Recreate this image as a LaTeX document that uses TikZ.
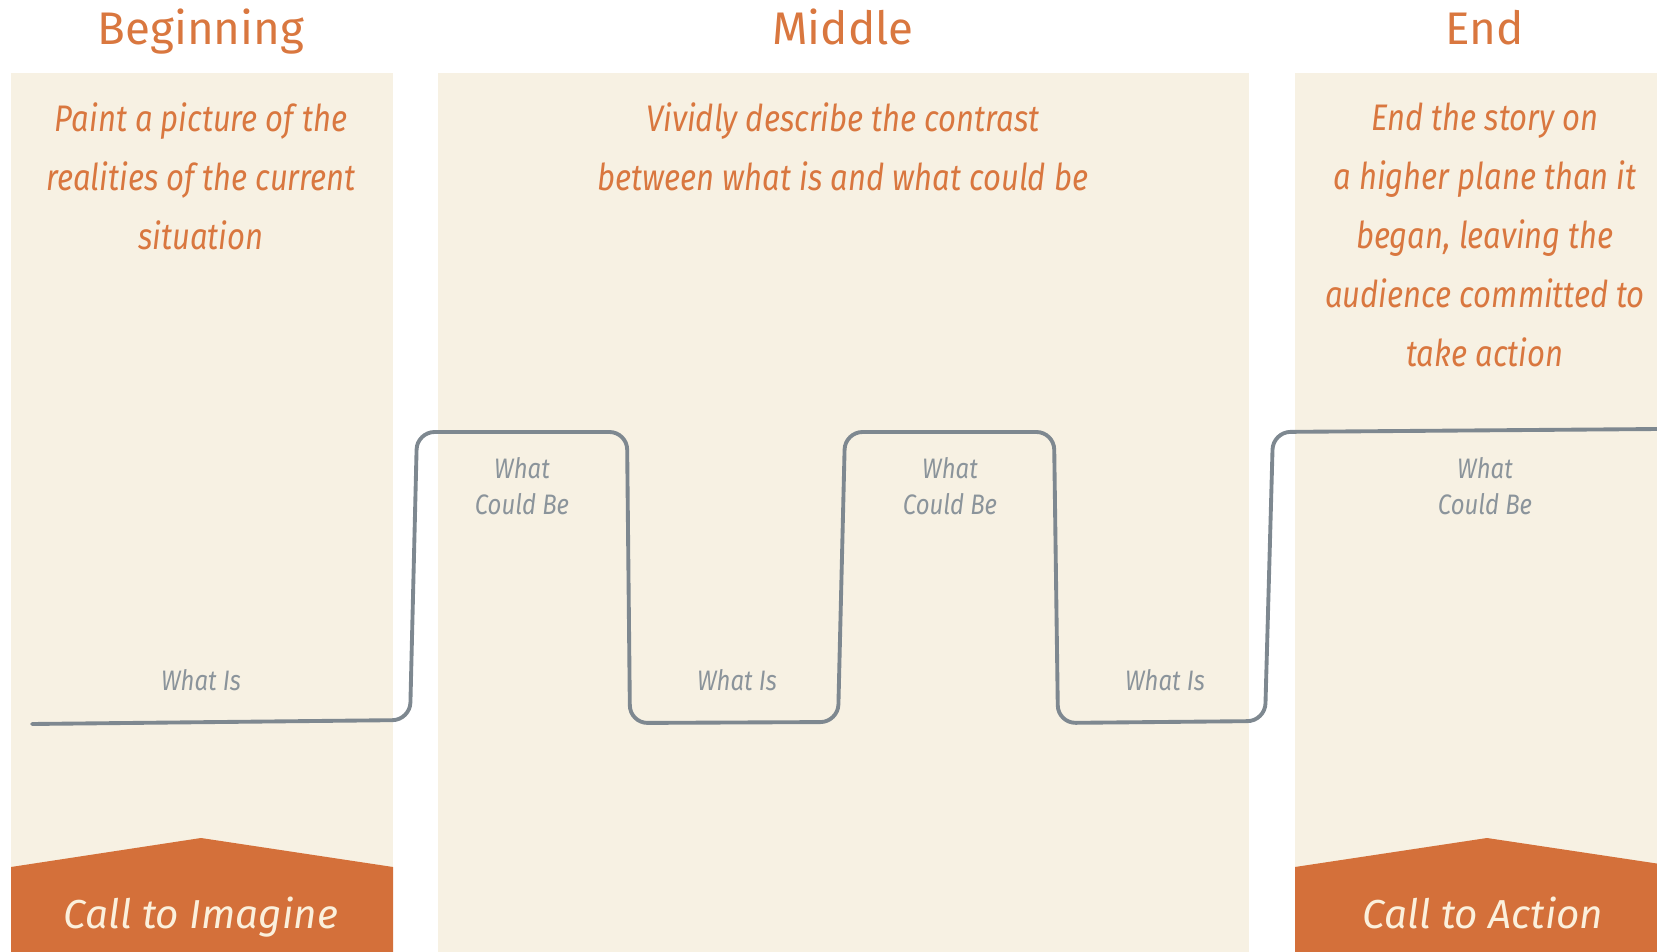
\documentclass[tikz,border=0pt]{standalone}
\usepackage{fontspec}
\setmainfont{Fira Sans}
\newfontfamily\condfont{Fira Sans}[FakeStretch=0.84]
\newfontfamily\labelfont{Fira Sans}[FakeStretch=0.85]
\usetikzlibrary{positioning}
\definecolor{panelbg}{HTML}{F7F1E3}
\definecolor{rust}{HTML}{D4703A}
\definecolor{titleorange}{HTML}{D9773F}
\definecolor{wavegray}{HTML}{7E8890}
\definecolor{labelgray}{HTML}{8B949B}
\definecolor{cream}{HTML}{FBF0DC}

\begin{document}
\begin{tikzpicture}[x=0.01cm, y=-0.01cm,
  heading/.style={text=titleorange, anchor=base, inner sep=0pt, font=\fontsize{13}{15}\selectfont},
  blurb/.style={text=titleorange, anchor=north, inner sep=0pt, align=center, font=\condfont\itshape\fontsize{10.5}{16.8}\selectfont},
  level/.style={text=labelgray, inner sep=0pt, align=center, font=\labelfont\itshape\fontsize{8}{10.2}\selectfont},
  calltext/.style={text=cream, anchor=base, inner sep=0pt, font=\itshape\fontsize{11.5}{14}\selectfont},
  wave/.style={draw=wavegray, line width=1.1pt, rounded corners=5, line cap=round}]
  \useasboundingbox (0,0) rectangle (1657,952);
  \clip (0,0) rectangle (1657,952);
  % three columns
  \fill[panelbg] (11,73) rectangle (393,952);
  \fill[panelbg] (438,73) rectangle (1249,952);
  \fill[panelbg] (1295,73) rectangle (1680,952);
  % headings
  \node[heading] (beg) at (201,45) {Beginning};
  \node[heading] (mid) at (843,45) {Middle};
  \node[heading] (end) at (1485,45) {End};
  % descriptions
  \node[blurb] (begtxt) at (201,102) {Paint a picture of the\\realities of the current\\situation};
  \node[blurb] (midtxt) at (843,102) {Vividly describe the contrast\\between what is and what could be};
  \node[blurb] (endtxt) at (1485,102) {End the story on\\a higher plane than it\\began, leaving the\\audience committed to\\take action};
  % the what is / what could be line
  \draw[wave] (32,724) -- (410,720) -- (417,432) -- (627,432) -- (630,723) -- (838,722)
    -- (845,432) -- (1054,432) -- (1058,723) -- (1265,721) -- (1273,432) -- (1660,429);
  \node[level] (is1) at (201,680) {What Is};
  \node[level] (is2) at (737,680) {What Is};
  \node[level] (is3) at (1165,680) {What Is};
  \node[level, anchor=north] (cb1) at (522,457) {What\\Could Be};
  \node[level, anchor=north] (cb2) at (950,457) {What\\Could Be};
  \node[level, anchor=north] (cb3) at (1485,457) {What\\Could Be};
  % banners
  \fill[rust] (11,867) -- (201,838) -- (393,867) -- (393,952) -- (11,952) -- cycle;
  \fill[rust] (1295,867) -- (1487,838) -- (1680,867) -- (1680,952) -- (1295,952) -- cycle;
  \node[calltext] (imagine) at (201,928) {Call to Imagine};
  \node[calltext] (action) at (1483,928) {Call to Action};
\end{tikzpicture}
\end{document}
